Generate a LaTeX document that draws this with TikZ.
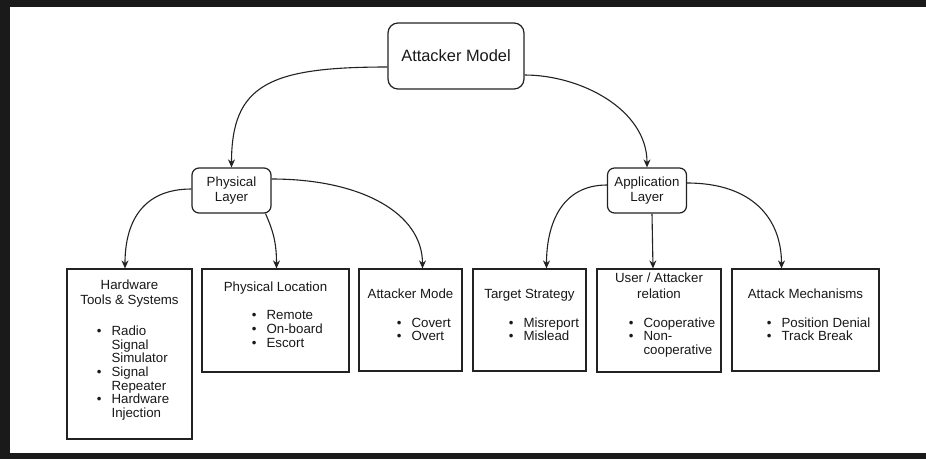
\documentclass[tikz,border=0pt]{standalone}
\usepackage{fontspec}
\setmainfont{Liberation Sans}
\usetikzlibrary{arrows.meta,positioning,calc}
\definecolor{framegray}{RGB}{26,26,26}
\definecolor{edgegray} {RGB}{34,34,34}
\definecolor{inkgray}  {RGB}{25,25,25}
\newcommand{\bulletlist}[1]{\begin{tabular}[t]{@{}l@{\hspace{10pt}}l@{}}#1\end{tabular}}

\begin{document}
\begin{tikzpicture}[
  x=1pt,y=-1pt,
  >={Stealth[length=8pt,width=7pt]},
  topbox/.style={draw=edgegray,line width=1.2pt,rounded corners=10pt,
                 minimum width=136pt,minimum height=66pt,inner sep=0pt,
                 text=inkgray,font=\fontsize{16.4}{19}\selectfont},
  midbox/.style={draw=edgegray,line width=1.2pt,rounded corners=7pt,
                 minimum width=79pt,minimum height=45pt,inner sep=0pt,
                 align=center,text=inkgray,font=\fontsize{13.3}{15}\selectfont},
  leaf/.style={draw=edgegray,line width=1.2pt,inner sep=0pt},
  ttl/.style={inner sep=0pt,align=center,text=inkgray,
              font=\fontsize{13.3}{15.5}\selectfont},
  lst/.style={inner sep=0pt,anchor=base west,text=inkgray,
              font=\fontsize{13.3}{13.6}\selectfont},
  link/.style={->,line width=1.1pt,draw=edgegray},
]

%% ── Frame ────────────────────────────────────────────────────────────────────
\fill[framegray] (0,0) rectangle (926,459);
\fill[white] (10,7) rectangle (926,453);

%% ── Root and the two layers ─────────────────────────────────────────────────
\node[topbox] (model) at (456,56) {Attacker Model};
\node[midbox] (phys)  at (231.5,190.5) {Physical\\Layer};
\node[midbox] (appl)  at (647,190.5) {Application\\Layer};

%% ── Leaf boxes ───────────────────────────────────────────────────────────────
\node[leaf,minimum width=125pt,minimum height=170pt] (hw)    at (129.5,354) {};
\node[leaf,minimum width=147pt,minimum height=103pt] (loc)   at (275.5,320.5) {};
\node[leaf,minimum width=103pt,minimum height=102pt] (mode)  at (410.5,320) {};
\node[leaf,minimum width=113pt,minimum height=102pt] (strat) at (529.5,320) {};
\node[leaf,minimum width=124pt,minimum height=103pt] (rel)   at (659,320.5) {};
\node[leaf,minimum width=147pt,minimum height=102pt] (mech)  at (805.5,320) {};

%% ── Leaf titles ──────────────────────────────────────────────────────────────
\node[ttl] (hwtitle) at (129.5,293.5) {Hardware\\Tools \& Systems};
\node[ttl,anchor=base] (loctitle)   at (275.5,291.8) {Physical Location};
\node[ttl,anchor=base] (modetitle)  at (410.5,298.8) {Attacker Mode};
\node[ttl,anchor=base] (strattitle) at (529.5,298.8) {Target Strategy};
\node[ttl,font=\fontsize{13.3}{16}\selectfont] (reltitle) at (659,286)
  {User / Attacker\\relation};
\node[ttl,anchor=base] (mechtitle)  at (805.5,298.8) {Attack Mechanisms};

%% ── Bullet lists ─────────────────────────────────────────────────────────────
\node[lst] (hwlist) at (96.7,335.5)
  {\bulletlist{\textbullet & Radio\\ & Signal\\ & Simulator\\
   \textbullet & Signal\\ & Repeater\\ \textbullet & Hardware\\ & Injection}};
\node[lst] (loclist) at (251.7,319.8)
  {\bulletlist{\textbullet & Remote\\ \textbullet & On-board\\ \textbullet & Escort}};
\node[lst] (modelist) at (396.7,327)
  {\bulletlist{\textbullet & Covert\\ \textbullet & Overt}};
\node[lst] (stratlist) at (508.7,327)
  {\bulletlist{\textbullet & Misreport\\ \textbullet & Mislead}};
\node[lst] (rellist) at (628.7,327)
  {\bulletlist{\textbullet & Cooperative\\ \textbullet & Non-\\ & cooperative}};
\node[lst] (mechlist) at (766.7,327)
  {\bulletlist{\textbullet & Position Denial\\ \textbullet & Track Break}};

%% ── Curved links ─────────────────────────────────────────────────────────────
\draw[link] ([yshift=-11pt]model.west)
  .. controls +(-118,0) and +(0,-83) .. (phys.north);
\draw[link] ([yshift=-19pt]model.east)
  .. controls +(56,0) and +(0,-58) .. (appl.north);

\draw[link] ([yshift=1.5pt]phys.west)
  .. controls +(-50,0) and +(0,-45) .. ([xshift=-4.5pt]hw.north);
\draw[link] ([xshift=34pt]phys.south)
  .. controls +(8,18) and +(0,-25) .. ([xshift=1pt]loc.north);
\draw[link] ([yshift=11.5pt]phys.east)
  .. controls +(90,0) and +(0,-55) .. ([xshift=12pt]mode.north);

\draw[link] ([yshift=5.5pt]appl.west)
  .. controls +(-45,0) and +(0,-45) .. ([xshift=17pt]strat.north);
\draw[link] ([xshift=5pt]appl.south) -- ([xshift=-6pt]rel.north);
\draw[link] ([yshift=7.5pt]appl.east)
  .. controls +(65,0) and +(0,-50) .. ([xshift=-24pt]mech.north);

\end{tikzpicture}
\end{document}
